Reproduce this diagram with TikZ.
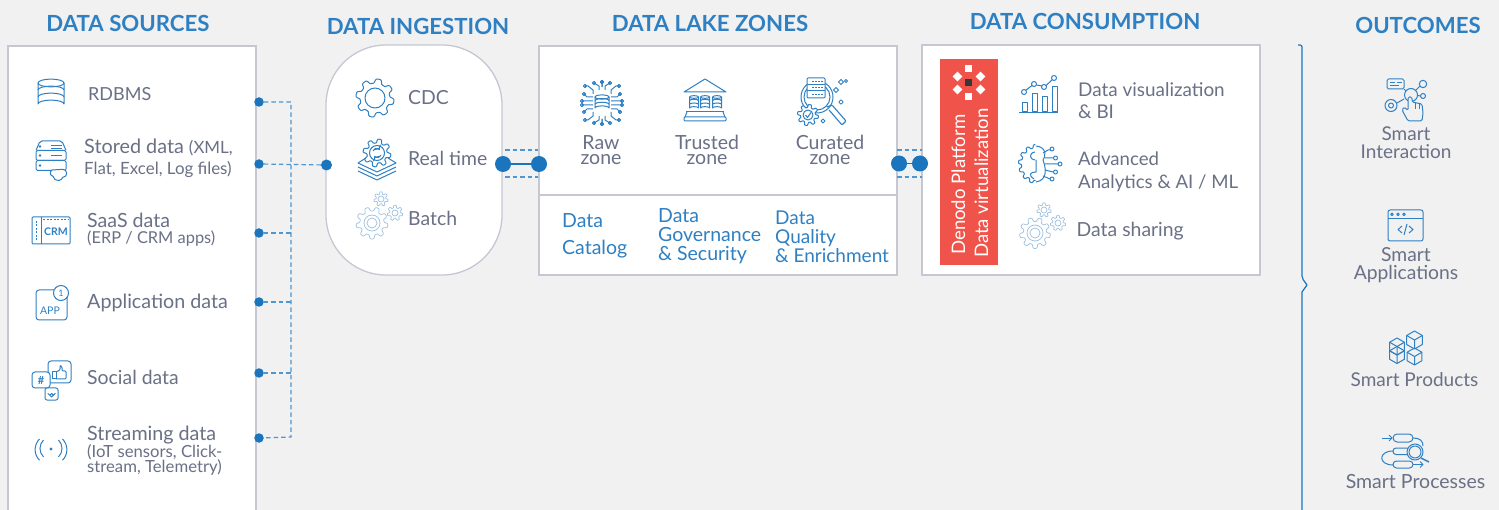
\documentclass[tikz,border=0pt]{standalone}
\usepackage{fontspec}
\setmainfont{Lato}
\usetikzlibrary{arrows.meta}
\definecolor{pagebg}{HTML}{F1F1F1}
\definecolor{edge}{HTML}{C5C7D3}
\definecolor{ublue}{HTML}{1B75BC}
\definecolor{lblue}{HTML}{2E80C3}
\definecolor{dblue}{HTML}{4F97D3}
\definecolor{pale}{HTML}{9CC0E0}
\definecolor{gtext}{HTML}{6A7086}
\definecolor{redbar}{HTML}{F0534A}
\newcommand\fs[2]{\fontsize{#1}{#2}\selectfont}
\newcommand\gearicon[6]{\draw[#6,shift={(#1,#2)}] plot[domain=0:360,samples=181] ({(#3+#4*tanh(2.2*sin(#5*\x)))*cos(\x)},{(#3+#4*tanh(2.2*sin(#5*\x)))*sin(\x)}) -- cycle;}
\newcommand\cyl[4]{% x y w h
  \begin{scope}[shift={(#1,#2)}]
  \draw[icon] (-#3,0) arc[x radius=#3,y radius=#3*0.3,start angle=180,end angle=540];
  \draw[icon] (-#3,0) -- (-#3,#4) arc[x radius=#3,y radius=#3*0.3,start angle=180,end angle=360] -- (#3,0);
  \draw[icon] (-#3,#4/3) arc[x radius=#3,y radius=#3*0.3,start angle=180,end angle=360];
  \draw[icon] (-#3,#4*2/3) arc[x radius=#3,y radius=#3*0.3,start angle=180,end angle=360];
  \end{scope}}
\newcommand\cube[3]{% x y s
  \begin{scope}[shift={(#1,#2)}]
  \draw[icon] (0,-#3) -- (#3*.87,-#3/2) -- (#3*.87,#3/2) -- (0,#3) -- (-#3*.87,#3/2) -- (-#3*.87,-#3/2) -- cycle;
  \draw[icon] (-#3*.87,-#3/2) -- (0,0) -- (#3*.87,-#3/2) (0,0) -- (0,#3);
  \end{scope}}
\tikzset{
  x=1pt,y=-1pt,
  panel/.style={draw=edge,line width=1.3pt,fill=white},
  icon/.style={draw=lblue,line width=1pt,line join=round,fill=none},
  faint/.style={draw=pale,line width=0.7pt,fill=none},
  head/.style={text=lblue,font=\fs{22.2}{24}\bfseries,anchor=base,yshift=-1.5pt},
  lab/.style={text=gtext,font=\fs{19.4}{21},anchor=base west,inner sep=0pt,align=left,yshift=-1.5pt},
  mid/.style={text=gtext,font=\fs{19.5}{15},anchor=base,inner sep=0pt,align=center,yshift=-1pt},
  link/.style={text=lblue,font=\fs{19.5}{19},anchor=base west,inner sep=0pt,align=left,yshift=-1.5pt},
  dashline/.style={draw=dblue,line width=1.2pt,dash pattern=on 4.5pt off 3pt},
  dotS/.style={circle,fill=ublue,inner sep=0pt,minimum size=9.5pt},
  dotM/.style={circle,fill=ublue,inner sep=0pt,minimum size=11pt},
  dotL/.style={circle,fill=ublue,inner sep=0pt,minimum size=16pt},
  petal/.style={fill=white,draw=none,inner sep=0pt,minimum size=7pt},
}
\begin{document}
\begin{tikzpicture}
\useasboundingbox (0,0) rectangle (1499,510);
\fill[pagebg] (0,0) rectangle (1499,510);
% headers
\node[head] (h1) at (128,30) {DATA SOURCES};
\node[head] (h2) at (418,33) {DATA INGESTION};
\node[head] (h3) at (710,30) {DATA LAKE ZONES};
\node[head] (h4) at (1085,28) {DATA CONSUMPTION};
\node[head] (h5) at (1418,32) {OUTCOMES};
% panels
\fill[white] (8,46) rectangle (256,512);
\draw[panel,fill=none] (8,512) -- (8,46) -- (256,46) -- (256,512);
\draw[panel,rounded corners=60pt] (326,45) rectangle (502,275);
\draw[panel] (539,46) rectangle (897,275);
\draw[edge,line width=1.3pt] (539,195) -- (897,195);
\draw[panel] (922,45) rectangle (1260,275);
\fill[redbar] (940,59) rectangle (998,265);
% connector nodes
\node[dotS] (s1) at (259,102) {};
\node[dotS] (s2) at (259,164) {};
\node[dotS] (s3) at (259,233) {};
\node[dotS] (s4) at (259,302) {};
\node[dotS] (s5) at (259,373) {};
\node[dotS] (s6) at (259,438) {};
\node[dotM] (ing) at (326.5,165) {};
\node[dotL] (a1) at (503,164) {};
\node[dotL] (a2) at (539,164) {};
\node[dotL] (b1) at (899,163.5) {};
\node[dotL] (b2) at (920,163.5) {};
\coordinate (bus1) at (291,102);
\coordinate (bus2) at (291,164);
\coordinate (bus3) at (291,233);
\coordinate (bus4) at (291,302);
\coordinate (bus5) at (291,373);
\coordinate (bus6) at (291,437);
\coordinate (a1t) at (505,150);\coordinate (a2t) at (538,150);
\coordinate (a1b) at (505,177);\coordinate (a2b) at (538,177);
\coordinate (b1t) at (897,150);\coordinate (b2t) at (922,150);
\coordinate (b1b) at (897,177);\coordinate (b2b) at (922,177);
\draw[dashline] (s1) -- (bus1) -- (bus6) -- (s6);
\draw[dashline] (s2) -- (ing);
\draw[dashline] (s3) -- (bus3);
\draw[dashline] (s4) -- (bus4);
\draw[dashline] (s5) -- (bus5);
\draw[dashline] (a1t) -- (a2t);
\draw[dashline] (a1b) -- (a2b);
\draw[dashline] (b1t) -- (b2t);
\draw[dashline] (b1b) -- (b2b);
\draw[ublue,line width=1.4pt] (a1) -- (a2);
\draw[ublue,line width=1.4pt] (b1) -- (b2);
% source labels
\node[lab,font=\fs{18}{21}] (t1) at (88,99) {RDBMS};
\node[lab,font=\fs{19.8}{21}] (t2) at (84,173) {Stored data {\fs{16.9}{21}(XML,}\\{\fs{16.9}{21}Flat, Excel, Log files)}};
\node[lab,font=\fs{19.6}{16}] (t3) at (87,242) {SaaS data\\{\fs{16.4}{16}(ERP / CRM apps)}};
\node[lab,font=\fs{19.7}{21}] (t4) at (87,307) {Application data};
\node[lab] (t5) at (87,383) {Social data};
\node[lab,font=\fs{19.7}{15.5}] (t6) at (87,471) {Streaming data\\[-1.5pt]{\fs{16.7}{15.5}(IoT sensors, Click-}\\{\fs{16.7}{15.5}stream, Telemetry)}};
% ingestion labels
\node[lab] (t7) at (408,103) {CDC};
\node[lab] (t8) at (408,164) {Real time};
\node[lab] (t9) at (408,224) {Batch};
% zones
\node[mid] (z1) at (601,163.5) {Raw\\zone};
\node[mid] (z2) at (707,163.5) {Trusted\\zone};
\node[mid] (z3) at (830,163.5) {Curated\\zone};
\node[link,font=\fs{19.5}{27}] (l1) at (562,253) {Data\\Catalog};
\node[link] (l2) at (658,259) {Data\\Governance\\\& Security};
\node[link,font=\fs{19}{19}] (l3) at (775,261) {Data\\Quality\\\& Enrichment};
% consumption labels
\node[lab,font=\fs{18.9}{22}] (c1) at (1078,117) {Data visualization\\\& BI};
\node[lab,font=\fs{18.6}{23}] (c2) at (1078,187) {Advanced\\Analytics \& AI / ML};
\node[lab] (c3) at (1076.5,235) {Data sharing};
\node[text=white,font=\fs{18.6}{21},rotate=90,anchor=base west,inner sep=0pt] (r1) at (965,255) {Denodo Platform};
\node[text=white,font=\fs{18.6}{21},rotate=90,anchor=base west,inner sep=0pt] (r2) at (988,258) {Data virtualization};
% denodo logo
\node[petal] (p0) at (968.5,68.5) {};
\node[petal] (p1) at (968.5,96.5) {};
\node[petal,rotate=45] (p2) at (957.5,76.5) {};
\node[petal,rotate=45] (p3) at (980.5,76.5) {};
\node[petal,rotate=45] (p4) at (957.5,89.5) {};
\node[petal,rotate=45] (p5) at (980.5,89.5) {};
\node[petal,fill=black!78] (p6) at (968.5,83) {};
% outcomes
\node[mid,font=\fs{19}{18}] (o1) at (1406,158) {Smart\\Interaction};
\node[mid,font=\fs{19.3}{18}] (o2) at (1406,279) {Smart\\Applications};
\node[mid,font=\fs{19}{18}] (o3) at (1414.5,385) {Smart Products};
\node[mid,font=\fs{19.5}{18}] (o4) at (1415.5,487) {Smart Processes};
% brace
\draw[ublue,line width=1.2pt,rounded corners=2pt] (1298,45) -- (1302,45) -- (1302,278) -- (1307,285);
\draw[ublue,line width=1.2pt] (1307,285) -- (1302,292) -- (1302,510);
% === icons ===
\cyl{51}{83}{13}{21}
\draw[icon,rounded corners=1.5pt] (36,170.5) rectangle (66,160.5);
\draw[icon,rounded corners=1.5pt] (36,160.5) rectangle (66,150.5);
\draw[icon,rounded corners=2pt] (36,150.5) -- (40,141) -- (62,141) -- (66,150.5);
\fill[lblue] (40,146.5) circle (1.3pt) (40,155.5) circle (1.3pt) (40,165.5) circle (1.3pt);
\draw[icon] (51,146) -- (62,146) (51,149) -- (62,149) (51,155.5) -- (62,155.5);
\draw[icon,fill=white] (52,170) arc[radius=3.5,start angle=240,end angle=100] arc[radius=5,start angle=170,end angle=20] arc[radius=4,start angle=90,end angle=-90] -- cycle;
% CRM
\draw[icon,rounded corners=1pt] (32,217) rectangle (70,244);
\draw[icon] (41,217) -- (41,244);
\draw[icon,dash pattern=on 2pt off 1.5pt] (43,220) -- (69,220);
\draw[icon,dash pattern=on 2pt off 1.5pt] (36.5,221) -- (36.5,241);
\node[text=lblue,font=\fs{10.5}{12}\bfseries,inner sep=0pt] (crm) at (56,232) {CRM};
% APP
\draw[icon,rounded corners=3pt] (36,290) rectangle (67,320);
\draw[icon,fill=white] (61,293) circle (7.5pt);
\node[text=lblue,font=\fs{9}{10},inner sep=0pt] (one) at (61,293) {1};
\node[text=lblue,font=\fs{10.5}{12},inner sep=0pt] (app) at (50,311) {APP};
% social
\draw[icon,rounded corners=3pt] (48,361) rectangle (71,383);
\draw[icon] (52,372) rectangle (56,379);
\draw[icon,rounded corners=1pt] (56,372) -- (60,370) -- (60,365) -- (62,367) -- (62,371) -- (66,371) -- (66,379) -- (56,379);
\draw[icon,rounded corners=3pt,fill=white] (32,372) rectangle (50,388);
\node[text=lblue,font=\fs{11}{12}\bfseries,inner sep=0pt] (hash) at (41,380.5) {\#};
\draw[icon,rounded corners=2pt,fill=white] (45,388) rectangle (58,400);
\draw[icon] (51.5,397) -- (48,393.5) arc[radius=1.8,start angle=180,end angle=0] arc[radius=1.8,start angle=180,end angle=0] -- cycle;
% streaming
\fill[lblue] (51,449) circle (1.6pt);
\draw[icon] (43.5,440) arc[radius=12,start angle=225,end angle=135] (58.5,440) arc[radius=12,start angle=-45,end angle=45];
\draw[icon] (39.5,439) arc[radius=15,start angle=225,end angle=135] (62.5,439) arc[radius=15,start angle=-45,end angle=45];
% ingestion icons
\gearicon{375}{98}{17}{2.2}{8}{icon}
\draw[icon] (375,98) circle (10pt);
\gearicon{377}{153}{12}{2}{8}{icon}
\draw[icon] (377,153) circle (7.5pt);
\draw[icon,->] (373,151) arc[radius=4,start angle=200,end angle=320];
\draw[icon,->] (381,155) arc[radius=4,start angle=20,end angle=140];
\draw[icon] (366,158) -- (358,163) -- (377,172) -- (396,163) -- (388,158);
\draw[icon] (358,167) -- (377,176) -- (396,167);
\draw[icon] (358,171) -- (377,180) -- (396,171);
\gearicon{372}{223}{14}{2}{9}{faint}
\draw[faint] (372,223) circle (8pt) (372,223) circle (5pt);
\gearicon{381}{199}{6}{1.2}{7}{faint}
\draw[faint] (381,199) circle (3pt);
\gearicon{395}{213}{6.5}{1.2}{7}{faint}
\draw[faint] (395,213) circle (3pt);
% raw zone icon
\cyl{602}{97}{7}{11}
\foreach \sx in {1,-1}\foreach \sy in {1,-1}{
\begin{scope}[shift={(602,103)},xscale=\sx,yscale=\sy]
\draw[icon] (3,13) -- (3,17) -- (8,20) circle (1.6pt);
\draw[icon] (9,9) -- (9,13) -- (14,17) -- (17,17) circle (1.6pt);
\draw[icon] (9,6) -- (15,6) -- (18,9) circle (1.6pt);
\draw[icon] (9,2) -- (20,2) circle (1.6pt);
\draw[icon] (0,16) -- (0,21) circle (1.6pt);
\end{scope}}
% trusted icon
\draw[icon] (684,92) -- (705,79) -- (726,92) -- cycle;
\cyl{694}{97}{4.5}{11}
\cyl{705}{97}{4.5}{11}
\cyl{717}{97}{4.5}{11}
\draw[icon] (686,112) -- (724,112);
\draw[icon,rounded corners=1pt] (684,117) rectangle (726,121);
\draw[icon] (687,112) -- (685,117) (723,112) -- (725,117);
% curated icon
\draw[icon] (817,97) circle (16pt);
\draw[icon] (817,97) circle (13pt);
\draw[icon,fill=white,rounded corners=1pt] (807,78) rectangle (825,98);
\draw[icon] (807,84.5) -- (825,84.5) (807,91) -- (825,91);
\draw[icon,dash pattern=on 2pt off 1pt] (812,81.5) -- (823,81.5) (812,88) -- (823,88) (812,95) -- (823,95);
\gearicon{808}{115}{9}{1.6}{8}{icon,fill=white}
\draw[icon] (808,115) circle (5pt);
\draw[icon] (805.5,115) -- (807.5,117.5) -- (811,112.5);
\draw[icon,rounded corners=1pt,line width=1.1pt] (827,107) -- (832,105) -- (846,121) -- (842,125) -- (829,110);
\foreach \px/\py/\ps in {841/82/2.5,836/90/2.5,841/102/2.2,823/121/2,846/81/1.5}{
  \draw[icon,line width=0.8pt] (\px-\ps,\py) -- (\px,\py-\ps) -- (\px+\ps,\py) -- (\px,\py+\ps) -- cycle;}
% chart icon
\draw[icon] (1022,103) rectangle (1027,112);
\draw[icon] (1032,94) rectangle (1037,112);
\draw[icon] (1042,97) rectangle (1047,112);
\draw[icon] (1052,87) rectangle (1057,112);
\draw[icon] (1019,112.7) -- (1058,112.7);
\draw[icon] (1024,92) circle (2.5pt) (1034,84) circle (2.5pt) (1044,87) circle (2.5pt) (1054,78) circle (2.5pt);
\draw[icon] (1026,90) -- (1032,85.5) (1036.5,85) -- (1042,86) (1046,85.5) -- (1052,80);
% brain icon
\draw[icon,shift={(1037,164)}] plot[domain=95:265,samples=90] ({(17+1.6*tanh(2*sin(14*\x)))*cos(\x)},{(18+1.6*tanh(2*sin(14*\x)))*sin(\x)});
\draw[icon] (1036,146) .. controls (1047,147) and (1046,157) .. (1043,160) .. controls (1046,168) and (1048,180) .. (1036,182);
\draw[icon] (1035,152) .. controls (1028,153) and (1030,160) .. (1035,160) (1036,160) -- (1036,172) .. controls (1030,172) and (1028,175) .. (1034,179);
\draw[icon] (1043,153) -- (1048,150) -- (1050,150) (1045,158) -- (1053,158) (1045,164) -- (1058,164) (1045,170) -- (1053,172) (1043,176) -- (1050,179);
\draw[icon] (1052,149) circle (2pt) (1055.5,158) circle (2pt) (1060,164) circle (2pt) (1055.5,172) circle (2pt) (1052,179) circle (2pt);
% sharing gears
\gearicon{1035}{233}{13.5}{2}{9}{faint}
\draw[faint] (1035,233) circle (8pt) (1035,233) circle (5pt);
\gearicon{1044}{210}{6}{1.2}{7}{faint}
\draw[faint] (1044,210) circle (3pt);
\gearicon{1058}{223}{6.5}{1.2}{7}{faint}
\draw[faint] (1058,223) circle (3pt);
% interaction icon
\draw[icon,rounded corners=1.5pt] (1387,79) rectangle (1404,89);
\draw[icon] (1390,82.5) -- (1395,82.5) (1397,82.5) -- (1402,82.5) (1390,85.5) -- (1399,85.5);
\draw[icon] (1411,95) circle (6.5pt);
\draw[icon] (1423,84) circle (3.7pt) (1423,96) circle (2.5pt);
\draw[icon] (1391,105.5) circle (6pt) (1391,105.5) circle (2.5pt);
\draw[icon] (1397,103) -- (1404,99) (1404,89) -- (1406,91) (1415,91) -- (1420,86) (1417.5,95.5) -- (1420.5,96);
\draw[icon,fill=pagebg,rounded corners=1.5pt] (1408,121) -- (1402,110) -- (1404,107) -- (1408,110.5) -- (1408,97) -- (1412,97) -- (1412,102) -- (1422,104) -- (1423,113) -- (1422,121) -- cycle;
\draw[icon] (1415.5,103) -- (1415.5,109) (1419,103.5) -- (1419,109);
% applications icon
\draw[icon,rounded corners=2pt] (1388,210) rectangle (1423,241);
\draw[icon] (1388,218.5) -- (1423,218.5);
\draw[icon] (1392,214.3) circle (1.3pt) (1398,214.3) circle (1.3pt) (1404,214.3) circle (1.3pt);
\draw[icon] (1402,226) -- (1398,229.5) -- (1402,233) (1409,226) -- (1413,229.5) -- (1409,233) (1407,224) -- (1404,235);
% products icon
\cube{1397}{346.5}{8.5}
\cube{1397}{355}{8.5}
\cube{1414.5}{340}{9}
\cube{1414.5}{356.5}{8.5}
% processes icon
\draw[icon] (1382,438) -- (1392,438);
\draw[icon] (1389,435) -- (1392,438) -- (1389,441);
\draw[icon,rounded corners=4pt] (1393,434) rectangle (1413,442);
\draw[icon,rounded corners=3pt] (1393,448) rectangle (1410,454.5);
\draw[icon,rounded corners=3.5pt] (1393,461) rectangle (1413,468);
\draw[icon] (1413,438) .. controls (1420,438) and (1423,441) .. (1423,446);
\draw[icon] (1393,451) .. controls (1378,451) and (1378,465) .. (1393,465);
\draw[icon] (1413,464.5) -- (1423,464.5);
\draw[icon] (1420,461.5) -- (1423,464.5) -- (1420,467.5);
\draw[icon,fill=pagebg] (1415,452) circle (8pt);
\draw[icon] (1415,452) circle (6pt);
\draw[icon,line width=1.4pt] (1421,458) -- (1429,462);
\end{tikzpicture}
\end{document}
